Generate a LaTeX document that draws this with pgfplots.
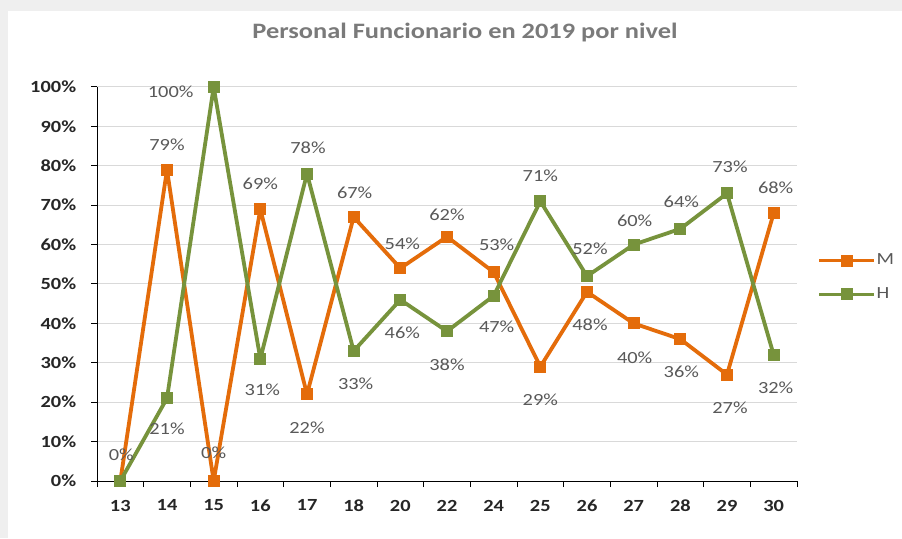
\documentclass[border=0pt]{standalone}
\usepackage{fontspec}
\setmainfont{Carlito}[FakeStretch=1.2]
\usepackage{pgfplots}
\usepackage{pgfplotstable}
\pgfplotsset{compat=1.18}
\definecolor{morange}{HTML}{E46C0A}
\definecolor{hgreen}{HTML}{77933C}
\definecolor{lblgray}{HTML}{595959}
\definecolor{gridgray}{HTML}{D9D9D9}
\definecolor{bandgray}{HTML}{EFEFEF}
\definecolor{titlegray}{HTML}{7A7A7A}

\pgfplotstableread{
x y dx dy
0 0 1 26
1 79 0 25
2 0 0 28
3 69 0 25
4 22 0 -33
5 67 1 24
6 54 2 24
7 62 0 22
8 53 3 27
9 29 0 -33
10 48 3 -33
11 40 1 -34
12 36 1 -33
13 27 3 -33
14 68 2 25
}\Mdata

\pgfplotstableread{
x y dx dy
0 0 0 -30
1 21 0 -31
2 100 -43 -5
3 31 2 -31
4 78 1 26
5 33 2 -33
6 46 2 -33
7 38 0 -33
8 47 3 -31
9 71 0 25
10 52 3 27
11 60 1 24
12 64 1 27
13 73 3 27
14 32 2 -33
}\Hdata

\begin{document}
\fontsize{17}{20}\selectfont
\begin{tikzpicture}[x=1pt,y=1pt]
\fill[white] (0,0) rectangle (902,538);
\fill[bandgray] (0,527) rectangle (902,538);
\fill[bandgray] (0,0) rectangle (8,538);
\node[font=\fontsize{22}{25}\selectfont\bfseries, text=titlegray] at (465,505) {Personal Funcionario en 2019 por nivel};
\begin{axis}[
  at={(97pt,57pt)}, anchor=south west,
  scale only axis, width=700pt, height=394pt,
  xmin=-0.5, xmax=14.5, ymin=0, ymax=100,
  axis x line*=bottom, axis y line*=left,
  axis line style={black, line width=1pt, -},
  xtick={0,...,14},
  xticklabels={13,14,15,16,17,18,20,22,24,25,26,27,28,29,30},
  minor xtick={-0.5,0.5,...,14.5},
  major x tick style={draw=none},
  minor tick length=6pt,
  ytick={0,10,...,100},
  yticklabels={0\%,10\%,20\%,30\%,40\%,50\%,60\%,70\%,80\%,90\%,100\%},
  major tick length=6pt,
  tick align=outside,
  tick style={black, line width=1pt},
  ymajorgrids, major grid style={gridgray, line width=1pt},
  ticklabel style={font=\fontsize{17}{20}\selectfont\bfseries, text=black!85},
  xticklabel style={yshift=-7pt},
  yticklabel style={xshift=-9pt},
  clip=false,
  legend style={at={(1.025,0.517)}, anchor=west, draw=none, fill=none,
    font=\fontsize{17}{20}\selectfont, text=lblgray, row sep=18pt,
    nodes={inner sep=1pt}},
  legend cell align=left,
  legend image code/.code={\draw[mark repeat=2,mark phase=2,#1,line width=3pt] plot coordinates {(0pt,0pt) (27.5pt,0pt) (55pt,0pt)};},
  every node near coord/.append style={font=\fontsize{17}{20}\selectfont, text=lblgray, anchor=center},
]
\addplot[morange, line width=3.8pt, line join=round, mark=square*, mark size=5.5pt, mark options={solid, line width=1pt, line join=miter}] table[x=x,y=y] {\Mdata};
\addlegendentry{M}
\addplot[hgreen, line width=3.8pt, line join=round, mark=square*, mark size=5.5pt, mark options={solid, line width=1pt, line join=miter}] table[x=x,y=y] {\Hdata};
\addlegendentry{H}
\addplot[draw=none, forget plot, point meta=explicit symbolic,
  visualization depends on={\thisrow{dx}\as\mydx},
  visualization depends on={\thisrow{dy}\as\mydy},
  nodes near coords={\pgfplotspointmeta\%},
  every node near coord/.append style={xshift=\mydx pt, yshift=\mydy pt}]
  table[x=x,y=y,meta=y] {\Mdata};
\addplot[draw=none, forget plot, point meta=explicit symbolic,
  skip coords between index={0}{1},
  visualization depends on={\thisrow{dx}\as\mydx},
  visualization depends on={\thisrow{dy}\as\mydy},
  nodes near coords={\pgfplotspointmeta\%},
  every node near coord/.append style={xshift=\mydx pt, yshift=\mydy pt}]
  table[x=x,y=y,meta=y] {\Hdata};
\end{axis}
\pgfresetboundingbox
\useasboundingbox (0,0) rectangle (902,538);
\end{tikzpicture}
\end{document}
